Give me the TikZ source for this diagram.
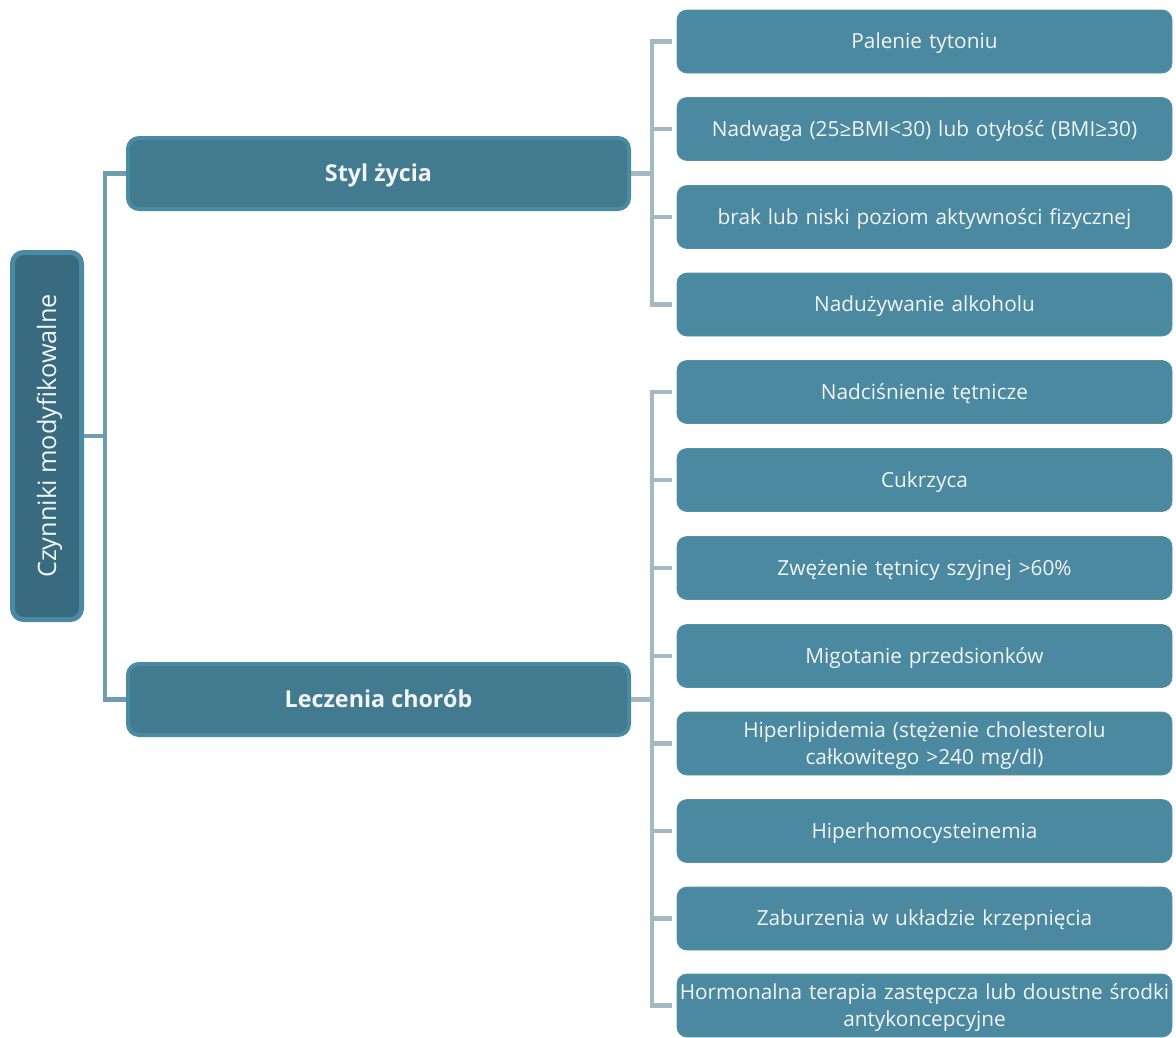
\documentclass[tikz,border=0pt]{standalone}
\usepackage{fontspec}
\setmainfont{Open Sans}
\definecolor{rootfill}{HTML}{386B7F}
\definecolor{rootline}{HTML}{4A8AA3}
\definecolor{midfill}{HTML}{427A8F}
\definecolor{midline}{HTML}{4A8BA3}
\definecolor{leaffill}{HTML}{4B89A0}
\definecolor{leafline}{HTML}{5592A8}
\definecolor{treeL}{HTML}{6F9DB0}
\definecolor{treeR}{HTML}{A2B9C5}
\definecolor{txt}{HTML}{F2F4F5}
\begin{document}
\begin{tikzpicture}[x=1pt,y=-1pt,
  rootbox/.style={draw=rootline,line width=5pt,fill=rootfill,rounded corners=11pt,
    minimum width=69pt,minimum height=367pt,inner sep=0pt},
  rootlabel/.style={text=txt,inner sep=0pt,font=\fontsize{25.3}{30}\selectfont,
    text height=18pt,text depth=0pt},
  midbox/.style={draw=midline,line width=4pt,fill=midfill,rounded corners=11pt,
    minimum width=501pt,minimum height=71pt,inner sep=0pt,text=txt,
    text height=16.6pt,text depth=0pt,
    font=\fontsize{23.3}{28}\selectfont\bfseries},
  leafbox/.style={draw=leafline,line width=0.8pt,fill=leaffill,rounded corners=10pt,
    minimum width=495pt,minimum height=63pt,inner sep=0pt,text=txt,align=center,
    text width=492pt,text height=14.9pt,text depth=0pt,
    font=\fontsize{20.8}{27.5}\selectfont},
  leaftwo/.style={leafbox,text depth=27.5pt},
  treel/.style={draw=treeL,line width=4.5pt},
  treer/.style={draw=treeR,line width=4.5pt}]
\useasboundingbox (0,0) rectangle (1176,1037);

\node[rootbox] (root) at (47,436) {};
\node[rootlabel,rotate=90] (rootl) at (root.center) {Czynniki modyfikowalne};
\node[midbox] (s1) at (378.5,173.5) {Styl życia};
\node[midbox] (s2) at (378.5,699.5) {Leczenia chorób};

\node[leafbox] (a1) at (924.5,41.5) {Palenie tytoniu};
\node[leafbox] (a2) at (924.5,129) {Nadwaga (25≥BMI<30) lub otyłość (BMI≥30)};
\node[leafbox] (a3) at (924.5,217) {brak lub niski poziom aktywności fizycznej};
\node[leafbox] (a4) at (924.5,304.5) {Nadużywanie alkoholu};

\node[leafbox] (b1) at (924.5,392) {Nadciśnienie tętnicze};
\node[leafbox] (b2) at (924.5,480) {Cukrzyca};
\node[leafbox] (b3) at (924.5,568) {Zwężenie tętnicy szyjnej >60\%};
\node[leafbox] (b4) at (924.5,656) {Migotanie przedsionków};
\node[leaftwo] (b5) at (924.5,743.5) {Hiperlipidemia (stężenie cholesterolu\\całkowitego >240 mg/dl)};
\node[leafbox] (b6) at (924.5,831) {Hiperhomocysteinemia};
\node[leafbox] (b7) at (924.5,918.5) {Zaburzenia w układzie krzepnięcia};
\node[leaftwo] (b8) at (924.5,1005.5) {Hormonalna terapia zastępcza lub doustne środki\\antykoncepcyjne};

\coordinate (lx) at (105,0);
\coordinate (rx) at (652,0);

% left tree
\draw[treel,line cap=rect] (s1.west -| lx) -- (s2.west -| lx);
\draw[treel] (s1.west) -- (s1.west -| lx);
\draw[treel] (s2.west) -- (s2.west -| lx);
\draw[treel] (root.east) -- (root.east -| lx);

% right trees
\draw[treer,line cap=rect] (a1.west -| rx) -- (a4.west -| rx);
\draw[treer] (s1.east) -- (s1.east -| rx);
\foreach \n in {a1,a2,a3,a4}{\draw[treer,shorten <=5pt] (\n.west) -- (\n.west -| rx);}
\draw[treer,line cap=rect] (b1.west -| rx) -- (b8.west -| rx);
\draw[treer] (s2.east) -- (s2.east -| rx);
\foreach \n in {b1,b2,b3,b4,b5,b6,b7,b8}{\draw[treer,shorten <=5pt] (\n.west) -- (\n.west -| rx);}
\end{tikzpicture}
\end{document}
